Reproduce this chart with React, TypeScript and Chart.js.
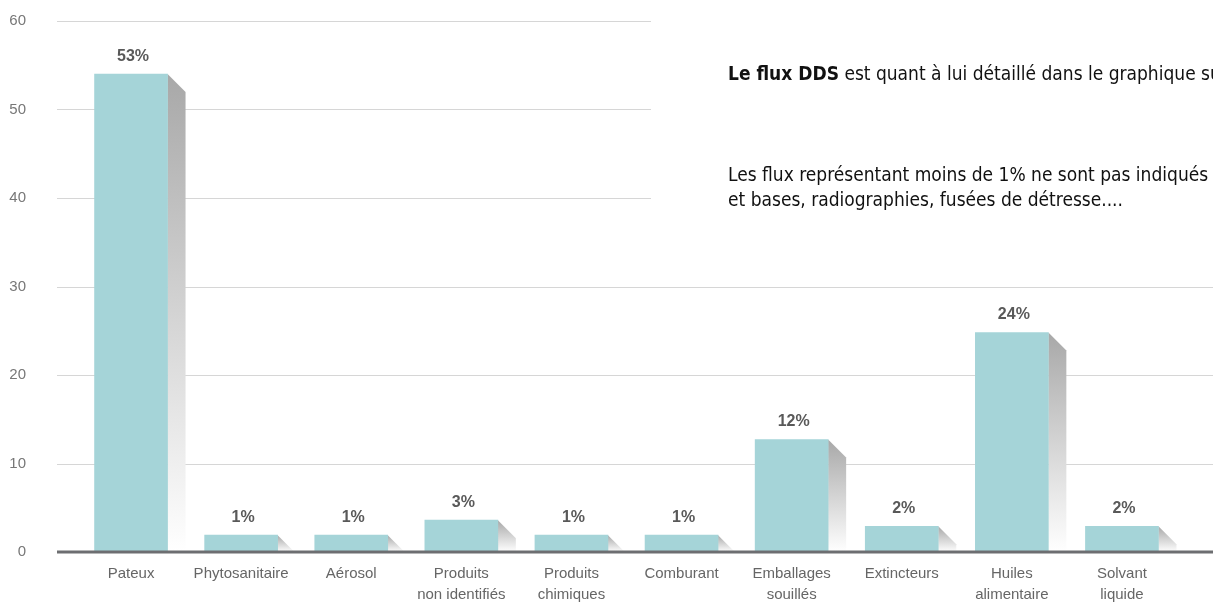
import React, { useEffect, useRef } from "react";
import { Chart, registerables } from "chart.js";

Chart.register(...registerables);

const categories: string[][] = [
  ["Pateux"],
  ["Phytosanitaire"],
  ["Aérosol"],
  ["Produits", "non identifiés"],
  ["Produits", "chimiques"],
  ["Comburant"],
  ["Emballages", "souillés"],
  ["Extincteurs"],
  ["Huiles", "alimentaire"],
  ["Solvant", "liquide"],
];
const values: number[] = [54.0, 1.9, 1.9, 3.6, 1.9, 1.9, 12.7, 2.9, 24.8, 2.9];
const valueLabels: string[] = ["53%", "1%", "1%", "3%", "1%", "1%", "12%", "2%", "24%", "2%"];
const yTicks: number[] = [0, 10, 20, 30, 40, 50, 60];

const noteTitleBold = "Le flux DDS";
const noteTitleRest = " est quant à lui détaillé dans le graphique suivant :";
const noteLines: string[] = [
  "Les flux représentant moins de 1% ne sont pas indiqués : acides",
  "et bases, radiographies, fusées de détresse....",
];

const NARROW = "'DejaVu Sans Condensed', 'Liberation Sans Narrow', sans-serif";
const SANS = "'Liberation Sans', Arial, sans-serif";
const BAR_COLOR = "#a5d4d8";

const decorPlugin = {
  id: "decor",
  beforeDatasetsDraw(chart: any) {
    const ctx = chart.ctx;
    const y = chart.scales.y;
    const w = chart.width;
    ctx.save();
    // grid lines
    ctx.strokeStyle = "#d6d6d6";
    ctx.lineWidth = 1;
    yTicks.forEach((t) => {
      if (t === 0) return;
      const py = Math.round(y.getPixelForValue(t)) + 0.5;
      ctx.beginPath();
      ctx.moveTo(57, py);
      ctx.lineTo(w, py);
      ctx.stroke();
    });
    // text box
    ctx.fillStyle = "#ffffff";
    ctx.fillRect(651, 0, w - 651, 250);
    ctx.fillStyle = "#111111";
    ctx.textBaseline = "alphabetic";
    ctx.textAlign = "left";
    ctx.font = `bold 19px ${NARROW}`;
    ctx.fillText(noteTitleBold, 728, 80);
    const bw = ctx.measureText(noteTitleBold).width;
    ctx.font = `19px ${NARROW}`;
    ctx.fillText(noteTitleRest, 728 + bw, 80);
    ctx.fillText(noteLines[0], 728, 181);
    ctx.fillText(noteLines[1], 728, 206);

    // shadows
    const meta = chart.getDatasetMeta(0);
    meta.data.forEach((el: any) => {
      const right = el.x + el.width / 2;
      const top = el.y;
      const base = el.base;
      const h = base - top;
      const d = 18;
      const g = ctx.createLinearGradient(0, top, 0, base);
      g.addColorStop(0, "#a8a8a8");
      g.addColorStop(1, "#ffffff");
      ctx.fillStyle = g;
      ctx.beginPath();
      ctx.moveTo(right, top);
      if (h > d) {
        ctx.lineTo(right + d, top + d);
        ctx.lineTo(right + d, base);
      } else {
        ctx.lineTo(right + h, base);
      }
      ctx.lineTo(right, base);
      ctx.closePath();
      ctx.fill();
    });
    ctx.restore();
  },
  afterDatasetsDraw(chart: any) {
    const ctx = chart.ctx;
    const y = chart.scales.y;
    const w = chart.width;
    ctx.save();
    // baseline
    ctx.strokeStyle = "#6d6e71";
    ctx.lineWidth = 3;
    const by = y.getPixelForValue(0);
    ctx.beginPath();
    ctx.moveTo(57, by);
    ctx.lineTo(w, by);
    ctx.stroke();
    // value labels
    const meta = chart.getDatasetMeta(0);
    ctx.fillStyle = "#595959";
    ctx.font = `bold 16px ${SANS}`;
    ctx.textAlign = "center";
    ctx.textBaseline = "middle";
    meta.data.forEach((el: any, i: number) => {
      ctx.fillText(valueLabels[i], el.x + 2, el.y - 18);
    });
    ctx.restore();
  },
};

export default function App() {
  const ref = useRef<HTMLCanvasElement | null>(null);
  useEffect(() => {
    if (!ref.current) return;
    const chart = new Chart(ref.current, {
      type: "bar",
      data: {
        labels: categories,
        datasets: [
          {
            data: values,
            backgroundColor: BAR_COLOR,
            borderWidth: 0,
            barThickness: 73,
          },
        ],
      },
      options: {
        responsive: false,
        animation: false,
        layout: { padding: { top: 21, right: 36, left: 0, bottom: 0 } },
        plugins: { legend: { display: false }, tooltip: { enabled: false } },
        scales: {
          x: {
            grid: { display: false, drawTicks: false },
            border: { display: false },
            ticks: {
              color: "#666666",
              font: { family: SANS, size: 15, lineHeight: 1.35 },
              padding: 12,
              maxRotation: 0,
              autoSkip: false,
            },
            afterFit: (s: any) => {
              s.height = 50;
            },
          },
          y: {
            min: 0,
            max: 60,
            grid: { display: false, drawTicks: false },
            border: { display: false },
            ticks: {
              stepSize: 10,
              color: "#777777",
              font: { family: SANS, size: 15 },
              padding: 50,
            },
            afterFit: (s: any) => {
              s.width = 76;
              s.paddingTop = 0;
              s.paddingBottom = 0;
            },
          },
        },
      },
      plugins: [decorPlugin],
    });
    return () => chart.destroy();
  }, []);
  return (
    <div style={{ position: "absolute", left: 0, top: 0, width: 1213, height: 602, background: "#fff" }}>
      <canvas ref={ref} width={1213} height={602} style={{ display: "block" }} />
    </div>
  );
}
